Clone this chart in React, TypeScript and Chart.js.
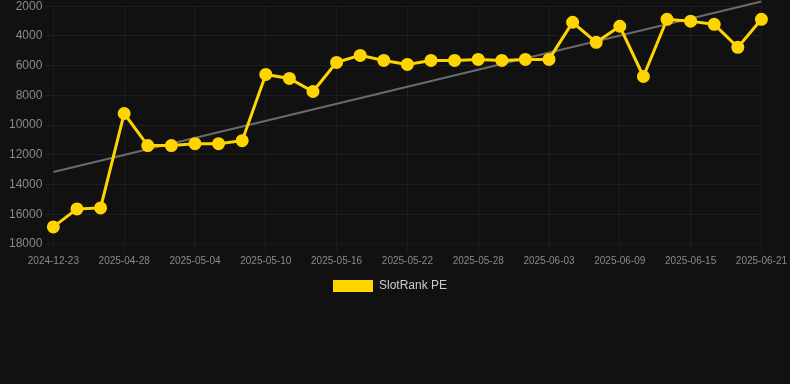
import React, { useEffect, useRef } from "react";
import { Chart, registerables } from "chart.js";

Chart.register(...registerables);

const labels = [
  "2024-12-23", "2025-04-24", "2025-04-26", "2025-04-28", "2025-04-30", "2025-05-02",
  "2025-05-04", "2025-05-06", "2025-05-08", "2025-05-10", "2025-05-12", "2025-05-14",
  "2025-05-16", "2025-05-18", "2025-05-20", "2025-05-22", "2025-05-24", "2025-05-26",
  "2025-05-28", "2025-05-30", "2025-06-01", "2025-06-03", "2025-06-05", "2025-06-07",
  "2025-06-09", "2025-06-11", "2025-06-13", "2025-06-15", "2025-06-17", "2025-06-19",
  "2025-06-21",
];

const rankValues = [
  16850, 15640, 15570, 9220, 11380, 11380, 11250, 11250, 11050, 6590, 6860, 7740,
  5780, 5310, 5650, 5920, 5650, 5650, 5580, 5650, 5580, 5580, 3080, 4430,
  3350, 6730, 2880, 3010, 3220, 4770, 2880,
];

const trendStart = 13150;
const trendEnd = 1680;

const yMin = 2000;
const yMax = 18000;
const yStep = 2000;

const legendShift = {
  id: "legendShift",
  afterLayout(chart: any) {
    if (chart.legend) {
      chart.legend.left -= 6;
      chart.legend.right -= 6;
    }
  },
};

export default function App() {
  const ref = useRef<HTMLCanvasElement | null>(null);

  useEffect(() => {
    if (!ref.current) return;
    const trend = labels.map((_, i) =>
      i === 0 ? trendStart : i === labels.length - 1 ? trendEnd : null
    );
    const chart = new Chart(ref.current, {
      type: "line",
      data: {
        labels,
        datasets: [
          {
            label: "SlotRank PE",
            data: rankValues,
            borderColor: "#FFD500",
            backgroundColor: "#FFD500",
            borderWidth: 3,
            pointRadius: 5,
            pointHoverRadius: 5,
            pointBackgroundColor: "#FFD500",
            pointBorderColor: "#FFD500",
            tension: 0,
            order: 0,
          },
          {
            label: "Trend",
            data: trend,
            borderColor: "#6b6b6b",
            backgroundColor: "#6b6b6b",
            borderWidth: 2,
            pointRadius: 0,
            spanGaps: true,
            clip: false as any,
            order: 1,
          },
        ],
      },
      options: {
        animation: false,
        responsive: true,
        maintainAspectRatio: false,
        layout: { padding: { left: 6, right: 4 } },
        plugins: {
          legend: {
            position: "bottom",
            labels: {
              color: "#cccccc",
              boxWidth: 40,
              boxHeight: 12,
              font: { size: 12, family: "Liberation Sans, Arial, sans-serif" },
              generateLabels: (c: any) =>
                (Chart.defaults.plugins.legend.labels.generateLabels as any)(c)
                  .filter((i: any) => i.datasetIndex === 0)
                  .map((i: any) => ({ ...i, lineWidth: 0 })),
            },
          },
          tooltip: { enabled: false },
        },
        scales: {
          x: {
            grid: { color: "rgba(255,255,255,0.05)" },
            ticks: {
              color: "#8a8a8a",
              maxRotation: 0,
              autoSkip: true,
              font: { size: 10, family: "Liberation Sans, Arial, sans-serif" },
            },
          },
          y: {
            reverse: true,
            min: yMin,
            max: yMax,
            grid: { color: "rgba(255,255,255,0.05)" },
            ticks: {
              stepSize: yStep,
              color: "#8a8a8a",
              font: { size: 12, family: "Liberation Sans, Arial, sans-serif" },
              callback: (v: any) => String(v),
            },
          },
        },
      },
      plugins: [legendShift],
    });
    return () => chart.destroy();
  }, []);

  return (
    <div style={{ position: "fixed", left: 0, top: 0, width: 790, height: 384, background: "#111111", overflow: "hidden" }}>
      <div style={{ position: "absolute", left: 0, top: -4, width: 790, height: 306 }}>
        <canvas ref={ref} />
      </div>
    </div>
  );
}
